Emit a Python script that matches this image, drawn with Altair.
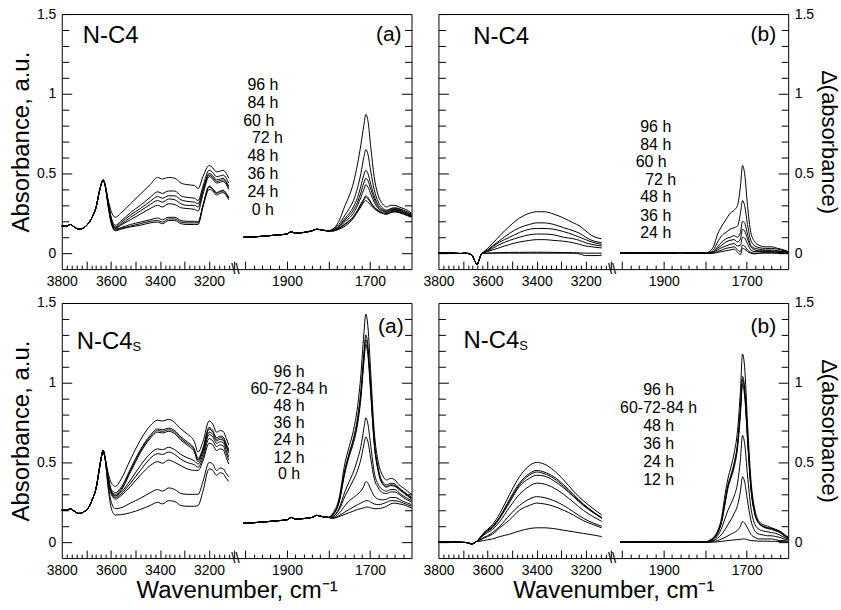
import altair as alt
import pandas as pd

FONT = "Liberation Sans, Arial, sans-serif"

# ---------------- wavenumber grids (cm-1) ----------------
AC_LEFT_COMMON_WN = [3800, 3780, 3765, 3750, 3730, 3710, 3690, 3675, 3660, 3648, 3638, 3632, 3624]
AC_LEFT_WN = [3612, 3598, 3582, 3560, 3520, 3480, 3440, 3410, 3390, 3365, 3340, 3315, 3290, 3260,
              3245, 3225, 3200, 3185, 3170, 3155, 3143, 3130, 3120]
AC_RIGHT_COMMON_WN = [2005, 1980, 1950, 1920, 1900, 1890, 1880, 1860, 1840, 1828, 1815, 1800]
AC_RIGHT_WN = [1790, 1775, 1760, 1750, 1740, 1730, 1722, 1715, 1710, 1705, 1698, 1690, 1680, 1670,
               1660, 1650, 1640, 1630, 1620, 1610, 1600]

B_LEFT_COMMON_WN = [3800, 3770, 3740, 3710, 3690, 3675, 3662, 3652, 3642, 3634, 3626]
B_LEFT_WN = [3618, 3600, 3580, 3550, 3510, 3470, 3430, 3400, 3370, 3330, 3290, 3250, 3225, 3200,
             3175, 3150, 3135]
BD_RIGHT_COMMON_WN = [2005, 1980, 1950, 1920, 1890, 1860, 1830, 1810, 1800]
B_RIGHT_WN = [1790, 1780, 1770, 1760, 1750, 1740, 1730, 1722, 1715, 1710, 1705, 1698, 1690, 1680,
              1670, 1655, 1640, 1625, 1610, 1600]

D_LEFT_COMMON_WN = [3800, 3760, 3720, 3690, 3675, 3665, 3655, 3645]
D_LEFT_WN = [3635, 3615, 3600, 3580, 3550, 3510, 3470, 3430, 3400, 3370, 3330, 3290, 3250, 3210,
             3170, 3135]
D_RIGHT_WN = [1790, 1780, 1770, 1760, 1752, 1745, 1738, 1730, 1722, 1715, 1710, 1705, 1698, 1690,
              1680, 1670, 1660, 1650, 1640, 1630, 1620, 1610, 1600]

# ---------------- panel (a) top: N-C4 absorbance ----------------
A_LEFT_COMMON = [0.17, 0.17, 0.18, 0.165, 0.15, 0.16, 0.19, 0.23, 0.29, 0.38, 0.44, 0.46, 0.43]
A_RIGHT_COMMON = [0.10, 0.102, 0.108, 0.115, 0.12, 0.135, 0.125, 0.13, 0.14, 0.15, 0.145, 0.14]
A_LEFT = {
    "96 h": [.34, .26, .225, .25, .31, .37, .43, .475, .465, .475, .47, .44, .43, .425, .405, .48, .55, .535, .51, .515, .52, .50, .47],
    "84 h": [.33, .22, .175, .20, .255, .30, .35, .385, .375, .39, .39, .36, .35, .345, .33, .42, .52, .505, .48, .485, .49, .47, .44],
    "60 h": [.33, .21, .165, .19, .24, .28, .325, .355, .345, .36, .36, .335, .325, .32, .31, .40, .50, .485, .46, .465, .47, .45, .42],
    "72 h": [.32, .205, .16, .18, .225, .265, .305, .33, .32, .34, .335, .31, .30, .30, .29, .39, .49, .475, .45, .455, .46, .44, .41],
    "48 h": [.32, .20, .155, .175, .21, .245, .28, .30, .29, .31, .305, .285, .28, .275, .265, .37, .48, .465, .44, .445, .45, .43, .40],
    "36 h": [.31, .195, .15, .16, .18, .195, .21, .22, .21, .225, .225, .205, .20, .20, .195, .30, .42, .405, .38, .39, .395, .375, .35],
    "24 h": [.31, .19, .145, .155, .17, .185, .20, .205, .195, .215, .215, .195, .19, .19, .19, .30, .415, .40, .375, .385, .39, .37, .345],
    "0 h": [.30, .185, .14, .15, .165, .175, .19, .195, .185, .205, .205, .185, .18, .18, .18, .29, .40, .39, .365, .375, .38, .36, .335],
}
A_RIGHT = {
    "96 h": [.15, .20, .30, .36, .44, .56, .68, .80, .87, .83, .66, .48, .36, .31, .29, .30, .30, .29, .28, .27, .25],
    "84 h": [.15, .18, .24, .28, .33, .41, .50, .60, .65, .62, .51, .40, .32, .285, .27, .28, .285, .28, .27, .26, .245],
    "60 h": [.145, .17, .22, .25, .29, .35, .42, .49, .52, .50, .43, .36, .30, .275, .265, .275, .28, .275, .265, .255, .24],
    "72 h": [.145, .165, .21, .235, .27, .32, .38, .44, .47, .455, .40, .34, .29, .27, .26, .27, .275, .27, .26, .25, .235],
    "48 h": [.14, .16, .20, .22, .25, .30, .35, .40, .43, .415, .37, .32, .28, .265, .255, .265, .27, .265, .255, .245, .235],
    "36 h": [.14, .155, .185, .205, .23, .27, .31, .34, .36, .35, .32, .29, .27, .255, .25, .26, .265, .26, .25, .24, .23],
    "24 h": [.14, .155, .18, .20, .225, .265, .30, .33, .35, .34, .315, .285, .265, .25, .245, .255, .26, .255, .245, .235, .225],
    "0 h": [.14, .15, .17, .19, .22, .26, .29, .32, .33, .32, .30, .28, .26, .25, .245, .255, .26, .255, .25, .24, .23],
}

# ---------------- panel (b) top: N-C4 difference ----------------
B_LEFT_COMMON = [0, 0.002, 0, -0.002, 0, -0.004, -0.015, -0.05, -0.07, -0.04, -0.008]
B_RIGHT_COMMON = [0, 0.002, 0, 0.002, 0, 0.003, 0, 0.002, 0]
B_LEFT = {
    "96 h": [0.005, 0.03, 0.06, 0.11, 0.17, 0.22, 0.25, 0.26, 0.26, 0.245, 0.22, 0.19, 0.17, 0.14, 0.11, 0.095, 0.09],
    "84 h": [0.003, 0.02, 0.045, 0.08, 0.125, 0.16, 0.18, 0.19, 0.19, 0.18, 0.16, 0.14, 0.125, 0.10, 0.08, 0.07, 0.065],
    "60 h": [0.003, 0.018, 0.04, 0.07, 0.10, 0.13, 0.15, 0.155, 0.155, 0.15, 0.135, 0.115, 0.10, 0.085, 0.07, 0.06, 0.055],
    "72 h": [0.002, 0.015, 0.03, 0.055, 0.08, 0.10, 0.115, 0.12, 0.12, 0.115, 0.10, 0.09, 0.08, 0.065, 0.055, 0.048, 0.045],
    "48 h": [0.002, 0.01, 0.02, 0.035, 0.055, 0.07, 0.08, 0.085, 0.085, 0.08, 0.075, 0.065, 0.055, 0.045, 0.04, 0.035, 0.033],
    "36 h": [0, 0, 0.002, 0.004, 0.005, 0.005, 0.006, 0.006, 0.006, 0.005, 0.004, 0.003, 0.002, 0, 0, 0, 0],
    "24 h": [0, 0, 0, 0, 0, 0, 0, 0, 0, 0, 0, 0, -0.005, -0.015, -0.015, -0.015, -0.012],
}
B_RIGHT = {
    "96 h": [0.01, 0.04, 0.12, 0.17, 0.21, 0.25, 0.27, 0.30, 0.42, 0.55, 0.50, 0.30, 0.13, 0.07, 0.05, 0.04, 0.04, 0.03, 0.02, 0.01],
    "84 h": [0.005, 0.02, 0.07, 0.11, 0.13, 0.15, 0.16, 0.17, 0.25, 0.33, 0.30, 0.18, 0.08, 0.045, 0.035, 0.03, 0.03, 0.025, 0.015, 0.01],
    "60 h": [0.003, 0.01, 0.04, 0.07, 0.09, 0.10, 0.11, 0.10, 0.13, 0.20, 0.19, 0.12, 0.05, 0.03, 0.025, 0.02, 0.02, 0.015, 0.01, 0.005],
    "72 h": [0.002, 0.008, 0.03, 0.05, 0.07, 0.08, 0.085, 0.07, 0.09, 0.15, 0.14, 0.09, 0.04, 0.02, 0.015, 0.015, 0.015, 0.01, 0.008, 0.005],
    "48 h": [0, 0.005, 0.02, 0.035, 0.045, 0.055, 0.06, 0.045, 0.05, 0.10, 0.095, 0.06, 0.02, 0.01, 0.01, 0.01, 0.01, 0.005, 0.003, 0],
    "36 h": [0, 0.002, 0.01, 0.02, 0.03, 0.035, 0.04, 0.02, 0.01, 0.05, 0.045, 0.02, 0.005, 0, 0, 0.005, 0.005, 0, 0, 0],
    "24 h": [0, 0, 0.005, 0.01, 0.015, 0.02, 0.025, 0.005, -0.01, 0.03, 0.025, 0.01, 0, -0.005, 0, 0, 0, 0, 0, 0],
}

# ---------------- panel (a) bottom: N-C4S absorbance ----------------
C_LEFT_COMMON = [0.20, 0.20, 0.21, 0.195, 0.18, 0.19, 0.22, 0.27, 0.34, 0.45, 0.54, 0.575, 0.53]
C_RIGHT_COMMON = [0.12, 0.122, 0.128, 0.135, 0.14, 0.155, 0.145, 0.148, 0.155, 0.168, 0.16, 0.155]
C_LEFT = {
    "96 h": [.44, .37, .35, .39, .52, .64, .73, .765, .76, .77, .75, .71, .68, .63, .565, .63, .76, .74, .69, .70, .695, .65, .61],
    "84 h": [.42, .33, .31, .34, .46, .58, .67, .71, .705, .715, .70, .66, .63, .585, .525, .59, .72, .70, .655, .665, .66, .615, .58],
    "72 h": [.41, .32, .30, .33, .45, .57, .66, .70, .695, .705, .69, .65, .62, .575, .515, .58, .71, .69, .645, .655, .65, .605, .57],
    "60 h": [.41, .315, .29, .32, .44, .56, .65, .69, .685, .695, .68, .64, .61, .565, .505, .57, .69, .675, .635, .645, .64, .595, .56],
    "48 h": [.40, .31, .29, .31, .39, .48, .555, .585, .58, .595, .58, .55, .53, .51, .49, .55, .675, .66, .62, .63, .625, .575, .535],
    "36 h": [.40, .305, .28, .30, .37, .45, .525, .555, .55, .565, .55, .52, .50, .485, .47, .53, .65, .635, .60, .61, .605, .555, .515],
    "24 h": [.39, .30, .27, .29, .35, .42, .48, .505, .495, .515, .50, .48, .46, .45, .45, .51, .62, .61, .575, .585, .58, .53, .49],
    "12 h": [.37, .25, .21, .215, .245, .275, .31, .33, .32, .34, .33, .305, .30, .30, .30, .38, .50, .49, .45, .465, .46, .43, .41],
    "0 h": [.35, .21, .17, .172, .185, .205, .23, .25, .24, .26, .255, .23, .225, .225, .23, .32, .46, .45, .42, .435, .43, .40, .38],
}
C_RIGHT = {
    "96 h": [.18, .27, .50, .60, .70, .85, 1.05, 1.30, 1.43, 1.35, 1.05, .70, .50, .42, .39, .40, .39, .36, .34, .32, .30],
    "84 h": [.17, .25, .46, .56, .65, .78, .95, 1.18, 1.30, 1.23, .96, .64, .46, .38, .36, .37, .365, .34, .32, .30, .28],
    "72 h": [.17, .25, .45, .55, .64, .76, .93, 1.15, 1.27, 1.20, .94, .63, .45, .37, .35, .36, .355, .335, .315, .295, .275],
    "60 h": [.17, .245, .44, .54, .62, .74, .90, 1.12, 1.24, 1.17, .92, .62, .44, .365, .345, .355, .35, .33, .31, .29, .27],
    "48 h": [.16, .21, .32, .38, .44, .52, .60, .71, .78, .74, .60, .44, .36, .33, .32, .33, .33, .31, .29, .275, .26],
    "36 h": [.16, .20, .29, .34, .39, .45, .52, .61, .66, .63, .52, .40, .34, .31, .305, .315, .315, .30, .28, .265, .25],
    "24 h": [.155, .18, .23, .26, .28, .30, .32, .35, .38, .37, .33, .29, .27, .265, .27, .28, .28, .27, .255, .245, .235],
    "12 h": [.15, .165, .19, .205, .22, .235, .245, .255, .26, .26, .25, .24, .235, .24, .25, .26, .26, .255, .245, .235, .225],
    "0 h": [.15, .16, .175, .185, .195, .205, .21, .215, .22, .22, .215, .21, .21, .215, .225, .24, .245, .24, .235, .225, .215],
}

# ---------------- panel (b) bottom: N-C4S difference ----------------
D_LEFT_COMMON = [0, 0.002, 0, -0.002, -0.006, -0.012, -0.006, 0.004]
D_RIGHT_COMMON = [0, 0.002, 0, 0.002, 0, 0.002, 0, 0.002, 0]
D_LEFT = {
    "96 h": [0.02, 0.06, 0.08, 0.11, 0.18, 0.30, 0.41, 0.48, 0.50, 0.49, 0.45, 0.39, 0.32, 0.26, 0.21, 0.17],
    "84 h": [0.02, 0.055, 0.075, 0.10, 0.16, 0.27, 0.37, 0.43, 0.45, 0.44, 0.41, 0.36, 0.30, 0.24, 0.19, 0.155],
    "72 h": [0.02, 0.055, 0.07, 0.095, 0.155, 0.26, 0.36, 0.42, 0.44, 0.43, 0.40, 0.35, 0.29, 0.235, 0.19, 0.15],
    "60 h": [0.02, 0.05, 0.07, 0.09, 0.15, 0.25, 0.35, 0.40, 0.42, 0.415, 0.385, 0.34, 0.285, 0.23, 0.185, 0.15],
    "48 h": [0.015, 0.045, 0.06, 0.08, 0.13, 0.22, 0.30, 0.35, 0.37, 0.365, 0.34, 0.30, 0.25, 0.20, 0.16, 0.13],
    "36 h": [0.01, 0.03, 0.04, 0.06, 0.10, 0.17, 0.23, 0.27, 0.285, 0.28, 0.26, 0.23, 0.19, 0.15, 0.12, 0.10],
    "24 h": [0.01, 0.025, 0.035, 0.05, 0.09, 0.14, 0.20, 0.23, 0.245, 0.24, 0.225, 0.20, 0.17, 0.135, 0.11, 0.09],
    "12 h": [0.005, 0.01, 0.015, 0.02, 0.035, 0.05, 0.07, 0.085, 0.09, 0.09, 0.085, 0.075, 0.065, 0.055, 0.045, 0.035],
}
D_RIGHT = {
    "96 h": [0.01, 0.03, 0.07, 0.16, 0.30, 0.40, 0.47, 0.56, 0.70, 0.95, 1.18, 1.10, 0.75, 0.40, 0.20, 0.13, 0.11, 0.10, 0.09, 0.08, 0.07, 0.05, 0.03],
    "84 h": [0.01, 0.025, 0.06, 0.14, 0.26, 0.36, 0.42, 0.50, 0.62, 0.85, 1.04, 0.97, 0.67, 0.36, 0.18, 0.12, 0.10, 0.09, 0.085, 0.075, 0.065, 0.045, 0.03],
    "72 h": [0.01, 0.025, 0.06, 0.135, 0.25, 0.35, 0.41, 0.49, 0.61, 0.83, 1.02, 0.95, 0.66, 0.35, 0.18, 0.12, 0.10, 0.09, 0.085, 0.075, 0.065, 0.045, 0.03],
    "60 h": [0.01, 0.02, 0.055, 0.13, 0.24, 0.34, 0.40, 0.47, 0.59, 0.80, 0.99, 0.92, 0.64, 0.34, 0.17, 0.115, 0.095, 0.085, 0.08, 0.07, 0.06, 0.04, 0.025],
    "48 h": [0.005, 0.015, 0.04, 0.09, 0.15, 0.20, 0.24, 0.29, 0.37, 0.52, 0.67, 0.62, 0.42, 0.22, 0.11, 0.08, 0.07, 0.065, 0.06, 0.055, 0.045, 0.03, 0.02],
    "36 h": [0.003, 0.01, 0.025, 0.05, 0.08, 0.11, 0.14, 0.18, 0.23, 0.32, 0.41, 0.38, 0.26, 0.14, 0.07, 0.05, 0.045, 0.04, 0.04, 0.035, 0.03, 0.02, 0.015],
    "24 h": [0, 0.005, 0.01, 0.02, 0.03, 0.04, 0.05, 0.06, 0.075, 0.10, 0.13, 0.12, 0.09, 0.05, 0.03, 0.02, 0.02, 0.02, 0.02, 0.015, 0.01, 0.01, 0.005],
    "12 h": [0, 0, 0.002, 0.005, 0.008, 0.01, 0.012, 0.014, 0.016, 0.018, 0.02, 0.02, 0.015, 0.01, 0.008, 0.006, 0.006, 0.006, 0.005, 0.005, 0.004, 0.003, 0.002],
}

# ---------------- annotations ----------------
A_LEGEND = ["96 h", "84 h", "60 h", "72 h", "48 h", "36 h", "24 h", "0 h"]
A_LEGEND_WN = [1958, 1958, 1968, 1947, 1958, 1958, 1958, 1958]
A_LEGEND_Y = [1.056, 0.944, 0.832, 0.720, 0.608, 0.496, 0.384, 0.272]
B_LEGEND = ["96 h", "84 h", "60 h", "72 h", "48 h", "36 h", "24 h"]
B_LEGEND_WN = [1919, 1919, 1930, 1907, 1919, 1919, 1919]
B_LEGEND_Y = [0.79, 0.68, 0.57, 0.46, 0.35, 0.235, 0.125]
C_LEGEND = ["96 h", "60-72-84 h", "48 h", "36 h", "24 h", "12 h", "0 h"]
C_LEGEND_WN = [1895] * 7
C_LEGEND_Y = [1.07, 0.96, 0.855, 0.745, 0.64, 0.53, 0.425]
D_LEGEND = ["96 h", "60-72-84 h", "48 h", "36 h", "24 h", "12 h"]
D_LEGEND_WN = [1912] * 6
D_LEGEND_Y = [0.955, 0.84, 0.73, 0.615, 0.50, 0.39]

X_LABELS = [3800, 3600, 3400, 3200, 1900, 1700]
Y_LABELS = [0, 0.5, 1, 1.5]
X_TICKS = list(range(3780, 3099, -20)) + list(range(2000, 1619, -20))
X_MAJOR = [w for w in X_TICKS if w % 100 == 0]
X_MINOR = [w for w in X_TICKS if w % 100 != 0]
Y_MAJOR = [0, 0.5, 1, 1.5]
Y_MINOR = [round(0.1 * i, 1) for i in range(0, 16) if i % 5 != 0]

# broken axis: two sub-ranges on a piecewise linear scale
XS = alt.Scale(domain=[3800, 3100, 2020, 1600], range=[0, 172.5, 176, 351], nice=False, zero=False)
YS = alt.Scale(domain=[-0.1, 1.5], nice=False, zero=False)
W, H = 351, 256


def spectra(lc_wn, lc_val, l_wn, l_curves, rc_wn, rc_val, r_wn, r_curves):
    rows = []
    assert len(lc_wn) == len(lc_val) and len(rc_wn) == len(rc_val)
    for name in l_curves:
        lv, rv = l_curves[name], r_curves[name]
        assert len(lv) == len(l_wn), (name, "L", len(lv), len(l_wn))
        assert len(rv) == len(r_wn), (name, "R", len(rv), len(r_wn))
        for w, v in zip(lc_wn + l_wn, lc_val + lv):
            rows.append({"wn": w, "val": v, "key": name + "-L"})
        for w, v in zip(rc_wn + r_wn, rc_val + rv):
            rows.append({"wn": w, "val": v, "key": name + "-R"})
    return pd.DataFrame(rows)


def x_axis(title):
    kw = dict(values=X_LABELS, format="d", ticks=False, tickSize=0, domain=False, grid=False,
              labelFontSize=14, labelPadding=5, labelFlush=False, labelOverlap=False,
              labelFont=FONT, labelColor="black")
    if title:
        kw.update(title=title, titleFontSize=24, titleFontWeight="normal", titlePadding=2,
                  titleFont=FONT, titleColor="black")
    else:
        kw["title"] = None
    return alt.Axis(**kw)


def y_axis(orient, title, size):
    return alt.Axis(orient=orient, values=Y_LABELS, format="~g", ticks=False, tickSize=0,
                    domain=False, grid=False, labelFontSize=14, labelPadding=6,
                    labelFlush=False, labelOverlap=False, labelFont=FONT, labelColor="black",
                    title=title, titleFontSize=size, titleFontWeight="normal", titlePadding=3,
                    titleFont=FONT, titleColor="black")


def tick_axis(orient, values, size):
    """Tick-only axis pulled inside the frame so its ticks point inward."""
    return alt.Axis(orient=orient, values=values, ticks=True, tickSize=size, offset=-size,
                    tickColor="black", tickWidth=1, tickOpacity=1, labels=False,
                    domain=False, grid=False, title=None)


def panel(df, legend, legend_wn, legend_y, title_rows, tag_row, xa, ya):
    def XY(xaxis, yaxis):
        return dict(x=alt.X("wn:Q", scale=XS, axis=xaxis), y=alt.Y("val:Q", scale=YS, axis=yaxis))

    lines = alt.Chart(df).mark_line(color="black", strokeWidth=1, interpolate="monotone").encode(
        detail="key:N", order=alt.Order("wn:Q", sort="descending"), **XY(xa, ya))
    leg_df = pd.DataFrame({"wn": legend_wn, "val": legend_y, "label": legend})
    leg = alt.Chart(leg_df).mark_text(fontSize=16, align="center", baseline="middle",
                                      color="black", font=FONT).encode(
        text="label:N", **XY(tick_axis("bottom", X_MINOR, 4), tick_axis("left", Y_MINOR, 7)))
    layers = [lines, leg]
    carriers = [(tick_axis("bottom", X_MAJOR, 8), tick_axis("left", Y_MAJOR, 10))]
    for i, row in enumerate(title_rows):
        xax, yax = carriers[i] if i < len(carriers) else (None, None)
        tdf = pd.DataFrame({"wn": [row["wn"]], "val": [row["val"]], "label": [row["text"]]})
        layers.append(alt.Chart(tdf).mark_text(fontSize=row["size"], align=row["align"],
                                               baseline="alphabetic", color="black", font=FONT)
                      .encode(text="label:N", **XY(xax, yax)))
    tdf = pd.DataFrame({"wn": [tag_row["wn"]], "val": [tag_row["val"]], "label": [tag_row["text"]]})
    layers.append(alt.Chart(tdf).mark_text(fontSize=21, align="right", baseline="alphabetic",
                                           color="black", font=FONT)
                  .encode(text="label:N", **XY(None, tick_axis("right", Y_MINOR, 7))))
    bdf = pd.DataFrame({"wn": [2560], "val": [-0.1], "label": ["\\\\"]})
    layers.append(alt.Chart(bdf).mark_text(fontSize=15, align="center", baseline="middle",
                                           color="black", font=FONT)
                  .encode(text="label:N", **XY(None, tick_axis("right", Y_MAJOR, 10))))
    return alt.layer(*layers).resolve_axis(x="independent", y="independent").properties(width=W, height=H)


XT = "Wavenumber,  cm\u207b\u00b9"
YT_L = "Absorbance,  a.u."
YT_R = "\u0394(absorbance)"

dfA = spectra(AC_LEFT_COMMON_WN, A_LEFT_COMMON, AC_LEFT_WN, A_LEFT,
              AC_RIGHT_COMMON_WN, A_RIGHT_COMMON, AC_RIGHT_WN, A_RIGHT)
dfB = spectra(B_LEFT_COMMON_WN, B_LEFT_COMMON, B_LEFT_WN, B_LEFT,
              BD_RIGHT_COMMON_WN, B_RIGHT_COMMON, B_RIGHT_WN, B_RIGHT)
dfC = spectra(AC_LEFT_COMMON_WN, C_LEFT_COMMON, AC_LEFT_WN, C_LEFT,
              AC_RIGHT_COMMON_WN, C_RIGHT_COMMON, AC_RIGHT_WN, C_RIGHT)
dfD = spectra(D_LEFT_COMMON_WN, D_LEFT_COMMON, D_LEFT_WN, D_LEFT,
              BD_RIGHT_COMMON_WN, D_RIGHT_COMMON, D_RIGHT_WN, D_RIGHT)

pA = panel(dfA, A_LEGEND, A_LEGEND_WN, A_LEGEND_Y,
           [{"wn": 3715, "val": 1.32, "text": "N-C4", "size": 24, "align": "left"}],
           {"wn": 1624, "val": 1.33, "text": "(a)"},
           x_axis(None), y_axis("left", YT_L, 24))
pB = panel(dfB, B_LEGEND, B_LEGEND_WN, B_LEGEND_Y,
           [{"wn": 3658, "val": 1.31, "text": "N-C4", "size": 24, "align": "left"}],
           {"wn": 1629, "val": 1.33, "text": "(b)"},
           x_axis(None), y_axis("right", YT_R, 22))
pC = panel(dfC, C_LEGEND, C_LEGEND_WN, C_LEGEND_Y,
           [{"wn": 3512, "val": 1.2125, "text": "N-C4", "size": 24, "align": "right"},
            {"wn": 3512, "val": 1.20, "text": "S", "size": 13, "align": "left"}],
           {"wn": 1619, "val": 1.31, "text": "(a)"},
           x_axis(XT), y_axis("left", YT_L, 24))
pD = panel(dfD, D_LEGEND, D_LEGEND_WN, D_LEGEND_Y,
           [{"wn": 3471, "val": 1.22, "text": "N-C4", "size": 24, "align": "right"},
            {"wn": 3471, "val": 1.2075, "text": "S", "size": 13, "align": "left"}],
           {"wn": 1629, "val": 1.31, "text": "(b)"},
           x_axis(XT), y_axis("right", YT_R, 22))

chart = alt.concat(pA, pB, pC, pD, columns=2, spacing={"row": 34, "column": 27}, bounds="flush").properties(
    padding={"left": 9, "top": 5, "right": 1, "bottom": 3}
).configure_view(stroke="black", strokeWidth=1)

chart.save("out.html", embed_options={"renderer": "svg", "actions": False})
